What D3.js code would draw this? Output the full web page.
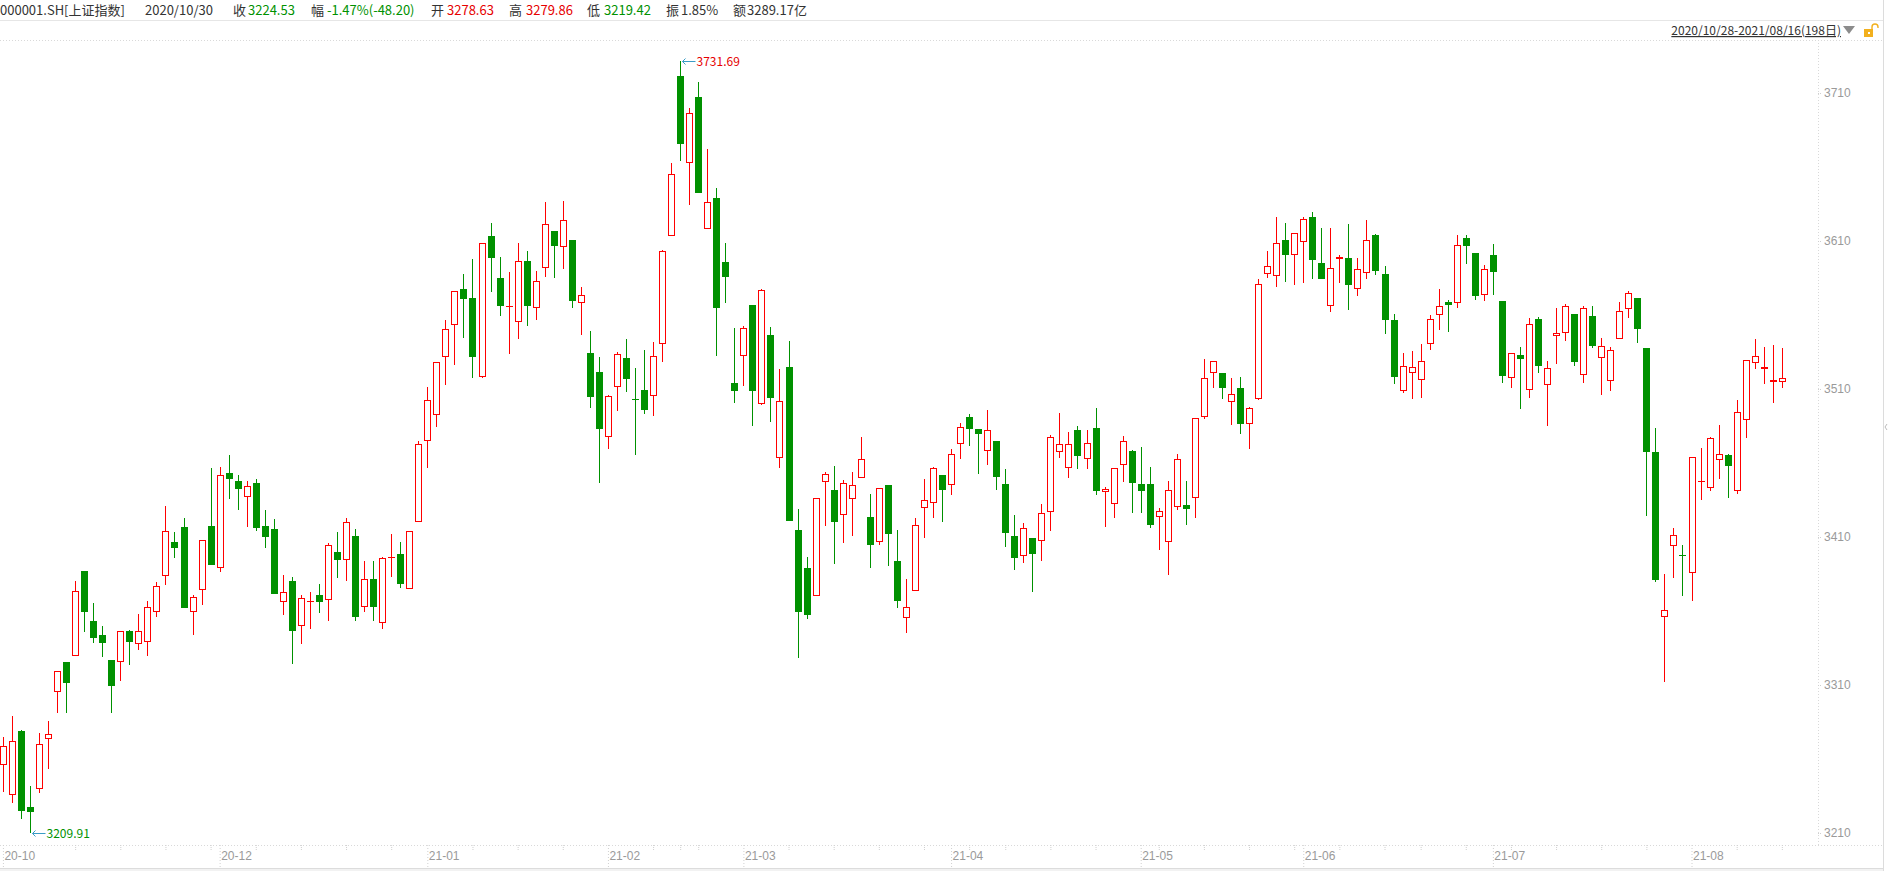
<!DOCTYPE html>
<html>
<head>
<meta charset="utf-8">
<title>000001.SH 上证指数 日K</title>
<script src="https://d3js.org/d3.v7.min.js"></script>
<style>
    body { margin:0; background:#fff; }
    svg { display:block; font-family:"Microsoft YaHei","Noto Sans CJK SC",sans-serif; }
    .hdr { font-size:13px; }
    .axis text { font-size:12px; fill:#9a9a9a; }
</style>
</head>
<body>
<svg id="klineSvg" width="1888" height="871"></svg>
<script>
// trading calendar: 2020/10/28 - 2021/08/16, weekdays minus exchange holidays
const startDay = "2020-10-28", endDay = "2021-08-16";
const holidays = ["2021-01-01","2021-02-11","2021-02-12","2021-02-15","2021-02-16","2021-02-17",
                  "2021-04-05","2021-05-03","2021-05-04","2021-05-05","2021-06-14"];

// OHLC, one value per trading day
const openV = [
 3255.7,3235.5,3278.63,3227.6,3239.5,3273.3,3305.0,3325.5,3329.4,3387.0,
 3353.2,3343.8,3326.9,3325.3,3346.3,3337.5,3338.8,3359.6,3383.9,3406.6,
 3416.8,3359.6,3374.0,3417.4,3388.8,3453.1,3447.8,3436.8,3446.3,3417.2,
 3415.2,3365.8,3380.0,3349.6,3366.5,3370.6,3367.2,3399.9,3394.2,3410.7,
 3362.5,3381.6,3351.7,3396.3,3398.5,3374.6,3419.9,3474.6,3492.2,3531.4,
 3553.0,3577.4,3571.5,3518.3,3613.4,3585.0,3565.9,3555.0,3596.5,3564.5,
 3591.5,3616.8,3605.7,3610.7,3567.9,3534.3,3521.5,3477.3,3511.1,3530.9,
 3503.0,3509.3,3505.0,3540.2,3613.1,3721.7,3662.4,3707.3,3618.0,3639.0,
 3595.9,3514.2,3532.0,3566.7,3500.2,3546.5,3463.2,3524.9,3414.8,3389.3,
 3370.1,3446.9,3441.9,3424.8,3435.6,3449.8,3423.5,3406.4,3445.3,3393.8,
 3355.2,3373.3,3429.4,3432.7,3451.7,3444.9,3472.6,3490.9,3482.7,3467.9,
 3474.6,3445.6,3410.7,3396.9,3409.3,3407.1,3427.1,3467.2,3456.4,3482.1,
 3462.5,3483.4,3440.2,3432.1,3458.4,3468.1,3445.7,3445.7,3423.3,3406.4,
 3430.0,3431.6,3436.1,3490.8,3520.6,3520.6,3501.0,3510.5,3486.1,3503.0,
 3587.5,3586.1,3610.4,3600.3,3609.1,3626.0,3594.9,3565.9,3597.6,3598.3,
 3577.3,3588.2,3613.9,3587.7,3556.6,3508.4,3520.6,3515.9,3540.2,3559.8,
 3568.8,3567.9,3612.0,3601.9,3573.3,3600.3,3569.5,3517.2,3533.0,3509.1,
 3557.3,3512.5,3545.6,3547.6,3560.7,3519.2,3559.1,3530.7,3515.2,3543.6,
 3563.8,3571.5,3537.7,3467.4,3355.7,3403.7,3397.8,3385.5,3447.2,3442.9,
 3461.8,3465.2,3441.3,3488.8,3527.3,3523.3,3514.7,3514.5];
const highV = [
 3275.1,3289.0,3279.86,3241.7,3277.3,3285.7,3319.2,3325.5,3380.3,3387.0,
 3365.2,3349.9,3326.9,3346.3,3347.2,3358.0,3366.8,3379.6,3430.9,3413.4,
 3422.6,3370.6,3408.0,3456.6,3457.5,3465.4,3451.9,3447.8,3449.0,3428.2,
 3422.2,3384.3,3383.0,3370.6,3372.8,3378.2,3405.7,3413.4,3422.8,3415.2,
 3393.8,3393.8,3396.5,3412.0,3406.6,3413.8,3474.9,3511.3,3528.0,3556.6,
 3576.0,3587.7,3597.8,3608.4,3622.2,3599.2,3588.8,3608.6,3603.2,3589.7,
 3636.4,3616.8,3637.0,3610.7,3578.9,3549.4,3531.6,3506.0,3535.0,3543.8,
 3524.4,3536.6,3541.7,3603.9,3662.7,3731.69,3700.0,3717.3,3672.1,3645.8,
 3608.8,3551.0,3552.3,3566.7,3577.5,3552.0,3523.6,3542.5,3429.0,3396.7,
 3436.4,3454.2,3457.7,3448.5,3454.0,3477.9,3439.3,3443.2,3445.3,3414.8,
 3381.7,3422.8,3449.2,3457.1,3451.7,3469.2,3487.0,3493.1,3482.7,3495.8,
 3474.6,3456.0,3424.9,3419.2,3409.3,3432.3,3478.7,3493.8,3481.0,3485.0,
 3482.3,3497.2,3443.6,3456.4,3478.2,3468.8,3470.8,3457.3,3429.4,3447.8,
 3466.1,3447.8,3490.2,3530.3,3528.7,3520.6,3517.4,3518.1,3497.6,3584.3,
 3603.2,3626.0,3621.9,3615.2,3626.2,3629.6,3618.8,3618.8,3600.3,3621.5,
 3598.5,3624.2,3614.6,3593.1,3560.7,3534.1,3535.7,3540.4,3559.8,3577.6,
 3570.1,3614.0,3614.0,3601.9,3593.6,3608.0,3569.5,3534.1,3538.4,3558.0,
 3558.7,3528.7,3564.7,3567.4,3560.7,3565.9,3566.1,3544.2,3538.2,3568.8,
 3576.2,3571.5,3537.7,3483.7,3385.0,3416.1,3404.6,3463.8,3470.1,3477.6,
 3485.7,3465.9,3502.6,3529.4,3543.8,3538.4,3539.7,3537.7];
const lowV = [
 3237.9,3230.5,3219.42,3209.91,3237.2,3253.5,3291.3,3291.3,3329.4,3346.0,
 3338.6,3329.1,3291.3,3312.9,3323.7,3333.6,3329.8,3356.2,3377.6,3396.0,
 3362.3,3344.0,3364.3,3391.3,3386.6,3435.9,3428.4,3417.0,3414.3,3402.8,
 3371.7,3357.5,3324.4,3337.9,3348.0,3358.9,3353.5,3382.5,3380.5,3353.5,
 3359.5,3353.5,3348.0,3383.2,3375.8,3374.6,3419.9,3456.8,3484.5,3512.9,
 3526.3,3544.7,3517.2,3517.6,3575.8,3559.5,3533.9,3544.0,3552.8,3556.8,
 3585.9,3585.2,3591.3,3564.9,3546.7,3496.9,3446.7,3469.7,3495.3,3508.2,
 3465.6,3492.9,3492.0,3528.5,3613.1,3664.2,3634.5,3642.7,3618.0,3532.0,
 3568.3,3500.8,3512.3,3485.3,3498.9,3487.4,3456.9,3421.1,3328.1,3354.4,
 3370.1,3417.5,3392.0,3406.1,3410.4,3449.8,3389.3,3404.3,3390.1,3361.7,
 3345.2,3373.3,3409.5,3423.0,3420.4,3438.6,3462.9,3471.7,3452.8,3458.9,
 3441.8,3403.5,3387.7,3392.7,3373.1,3394.0,3414.3,3463.6,3450.1,3456.2,
 3456.2,3438.6,3417.0,3423.1,3447.4,3426.4,3426.4,3416.3,3401.4,3384.5,
 3428.5,3418.3,3422.6,3489.7,3510.9,3503.5,3485.9,3479.8,3469.7,3502.3,
 3585.2,3579.1,3582.5,3580.5,3581.8,3584.5,3584.5,3562.3,3581.8,3563.6,
 3573.1,3584.5,3587.1,3547.4,3513.6,3507.5,3503.5,3504.1,3536.6,3550.1,
 3548.7,3565.0,3594.7,3570.4,3569.7,3573.7,3514.3,3510.9,3496.7,3504.1,
 3521.0,3485.2,3527.1,3542.6,3525.8,3514.3,3537.9,3506.2,3508.9,3543.6,
 3558.2,3541.3,3424.4,3379.8,3312.3,3382.5,3370.4,3367.0,3435.2,3440.9,
 3449.4,3436.6,3438.8,3477.1,3523.7,3513.6,3500.8,3510.9];
const closeV = [
 3268.8,3271.9,3224.53,3224.4,3269.9,3276.7,3319.2,3311.6,3373.3,3359.6,
 3342.0,3338.6,3309.5,3346.3,3339.3,3346.3,3362.7,3376.7,3414.1,3402.8,
 3362.3,3369.5,3408.0,3391.3,3451.9,3449.4,3442.1,3444.2,3416.3,3410.2,
 3371.7,3372.6,3346.7,3368.5,3366.6,3366.3,3404.4,3394.7,3419.9,3356.2,
 3381.4,3363.0,3395.6,3396.4,3378.5,3413.8,3472.6,3502.3,3528.0,3550.3,
 3576.0,3570.5,3531.8,3608.4,3598.7,3566.3,3566.0,3596.2,3566.3,3582.7,
 3621.3,3606.8,3623.9,3569.7,3573.3,3504.8,3483.2,3505.3,3533.4,3517.0,
 3502.6,3496.0,3532.1,3603.0,3655.0,3675.8,3696.3,3642.7,3636.1,3564.4,
 3585.4,3508.9,3551.0,3508.9,3576.7,3503.7,3501.6,3421.1,3359.1,3357.5,
 3436.4,3452.4,3419.8,3446.4,3445.0,3462.7,3404.3,3443.2,3411.7,3367.0,
 3362.5,3418.0,3434.8,3456.4,3442.0,3465.9,3484.1,3483.2,3479.8,3482.1,
 3450.8,3412.9,3396.0,3415.9,3398.7,3426.0,3477.3,3472.6,3472.6,3465.0,
 3473.3,3441.3,3442.2,3456.4,3474.6,3446.7,3441.3,3418.3,3427.3,3441.5,
 3462.5,3429.1,3490.2,3517.2,3528.7,3510.9,3506.4,3486.6,3496.9,3580.7,
 3592.9,3608.4,3600.8,3615.2,3624.6,3597.4,3584.5,3591.5,3599.0,3580.5,
 3590.9,3610.4,3590.0,3556.8,3518.3,3525.3,3524.6,3528.7,3557.1,3565.9,
 3567.0,3607.1,3606.8,3573.1,3590.9,3589.3,3519.0,3534.1,3530.5,3553.7,
 3525.8,3524.0,3547.6,3565.9,3528.5,3564.5,3539.3,3538.8,3536.1,3562.5,
 3574.6,3550.8,3467.7,3381.2,3360.5,3411.1,3397.4,3463.8,3447.6,3476.7,
 3465.9,3458.2,3494.2,3529.4,3532.1,3524.6,3516.1,3517.4];

const yTicks = [3210, 3310, 3410, 3510, 3610, 3710];

// quote strip at the top
const headerText = ["000001.SH[上证指数]","2020/10/30","收","3224.53","幅","-1.47%(-48.20)","开","3278.63",
                    "高","3279.86","低","3219.42","振","1.85%","额","3289.17亿"];
const headerTone = ["k","k","k","dn","k","dn","k","up","k","up","k","dn","k","k","k","k"];
const headerX    = [0,145,233,248,311,327,431,447,509,526,587,604,666,681,733,747];

const UP = "#ff0000", DOWN = "#009100";
const toneColor = { k:"#333", up:"#e60000", dn:"#009100" };

// ---- build trading day list ----
const fmtKey = d3.utcFormat("%Y-%m-%d");
const dates = d3.utcDay.range(new Date(startDay+"T00:00Z"), d3.utcDay.offset(new Date(endDay+"T00:00Z"), 1))
    .filter(d => d.getUTCDay() !== 0 && d.getUTCDay() !== 6 && !holidays.includes(fmtKey(d)));

const candles = dates.map((d, i) => ({ key: fmtKey(d), date: d, o: openV[i], h: highV[i], l: lowV[i], c: closeV[i] }));

const svg = d3.select("#klineSvg");
const W = 1888, H = 871;
const plotRight = 1818, plotTop = 40, plotBottom = 845;

// scales
const x = d3.scaleBand().domain(candles.map(d => d.key)).range([-1.1, 1786.84]).padding(0);
const y = d3.scaleLinear().domain([3210, 3710]).range([833, 93]);
const col = d => Math.floor(x(d.key) + x.bandwidth() / 2);

// ---- frame lines ----
svg.append("line").attr("x1",0).attr("x2",1883).attr("y1",20.5).attr("y2",20.5).attr("stroke","#e6e6e6");
svg.append("line").attr("x1",0).attr("x2",1883).attr("y1",plotTop+0.5).attr("y2",plotTop+0.5)
    .attr("stroke","#d9d9d9").attr("stroke-dasharray","1,2");
svg.append("line").attr("x1",1883.5).attr("x2",1883.5).attr("y1",0).attr("y2",H).attr("stroke","#dcdcdc");
svg.append("line").attr("x1",0).attr("x2",1883).attr("y1",868.5).attr("y2",868.5).attr("stroke","#dcdcdc");
svg.append("rect").attr("x",0).attr("y",869).attr("width",1883).attr("height",2).attr("fill","#f2f2f2");
svg.append("line").attr("x1",plotRight+0.5).attr("x2",plotRight+0.5).attr("y1",plotTop).attr("y2",plotBottom)
    .attr("stroke","#d9d9d9").attr("stroke-dasharray","1,2");
svg.append("line").attr("x1",0).attr("x2",1883).attr("y1",plotBottom+0.5).attr("y2",plotBottom+0.5)
    .attr("stroke","#d9d9d9").attr("stroke-dasharray","1,2");
// small handle at the right edge
svg.append("path").attr("d","M1887,424 L1885,427 L1887,430").attr("fill","none").attr("stroke","#bbb");

// ---- header ----
const hdr = svg.append("g").attr("class","hdr");
hdr.selectAll("text").data(headerText).join("text")
    .attr("x", (d, i) => headerX[i]).attr("y", 15)
    .attr("fill", (d, i) => toneColor[headerTone[i]])
    .text(d => d);

// range text, triangle, lock
const fmtSlash = d3.utcFormat("%Y/%m/%d");
svg.append("text").attr("x", 1841).attr("y", 35).attr("text-anchor","end")
    .attr("font-size","12px").attr("fill","#333").attr("text-decoration","underline")
    .text(fmtSlash(dates[0]) + "-" + fmtSlash(dates[dates.length-1]) + "(" + dates.length + "日)");
svg.append("path").attr("d","M1843,26 L1855,26 L1849,34 Z").attr("fill","#8c8c8c");
svg.append("rect").attr("x",1864).attr("y",29).attr("width",9).attr("height",8).attr("fill","#f2b01e");
svg.append("rect").attr("x",1868).attr("y",32).attr("width",2).attr("height",2).attr("fill","#fff");
svg.append("path").attr("d","M1872,29 V27 A3,3 0 0 1 1878,27 V28").attr("fill","none")
    .attr("stroke","#f2b01e").attr("stroke-width",1.4);

// ---- y axis (right) ----
const yAxisG = svg.append("g").attr("class","axis").attr("transform",`translate(${plotRight},0)`)
    .call(d3.axisRight(y).tickValues(yTicks).tickSize(4).tickPadding(2).tickFormat(d3.format("d")));
yAxisG.select(".domain").remove();
yAxisG.selectAll(".tick line").attr("stroke","#cfcfcf").attr("stroke-dasharray","1,1");

// ---- x axis ----
const monthStarts = candles.filter((d, i) => i === 0 || d.date.getUTCMonth() !== candles[i-1].date.getUTCMonth());
const weekKey = d => fmtKey(d3.utcMonday.floor(d.date));
const weekStarts = candles.filter((d, i) => i > 0 && weekKey(d) !== weekKey(candles[i-1]) && !monthStarts.includes(d));
// drop month labels that would collide with the previous one
const shownMonths = [];
monthStarts.forEach(d => {
    const last = shownMonths[shownMonths.length-1];
    if (!last || x(d.key) - x(last.key) > 50) shownMonths.push(d);
});
const fmtMonth = d3.utcFormat("%y-%m");
const keyToDate = new Map(candles.map(d => [d.key, d.date]));

const minorG = svg.append("g").attr("class","axis").attr("transform",`translate(0,${plotBottom})`)
    .call(d3.axisBottom(x).tickValues(weekStarts.map(d => d.key)).tickSize(5).tickFormat(""));
minorG.select(".domain").remove();
minorG.selectAll(".tick line").attr("stroke","#d0d0d0").attr("stroke-dasharray","1,1");

const xAxisG = svg.append("g").attr("class","axis").attr("transform",`translate(0,${plotBottom})`)
    .call(d3.axisBottom(x).tickValues(shownMonths.map(d => d.key)).tickSize(23)
        .tickFormat(k => fmtMonth(keyToDate.get(k))));
xAxisG.select(".domain").remove();
xAxisG.selectAll(".tick line").attr("stroke","#d0d0d0").attr("stroke-dasharray","1,2");
xAxisG.selectAll(".tick text").attr("text-anchor","start").attr("x",1).attr("y",15).attr("dy",0);

// ---- candles ----
const cg = svg.append("g").attr("shape-rendering","crispEdges");
candles.forEach(d => {
    const up = d.c >= d.o;
    const color = up ? UP : DOWN;
    const px = col(d);
    const yt = Math.round(y(Math.max(d.o, d.c)));
    const yb = Math.round(y(Math.min(d.o, d.c)));
    const yh = Math.round(y(d.h));
    const yl = Math.round(y(d.l));
    if (!up || yb - yt <= 1) {
        cg.append("rect").attr("x",px).attr("y",yh).attr("width",1).attr("height",Math.max(1, yl-yh)).attr("fill",color);
        cg.append("rect").attr("x",px-3).attr("y",yt).attr("width",7).attr("height",Math.max(1, yb-yt)).attr("fill",color);
    } else {
        if (yt > yh) cg.append("rect").attr("x",px).attr("y",yh).attr("width",1).attr("height",yt-yh).attr("fill",color);
        if (yl > yb) cg.append("rect").attr("x",px).attr("y",yb).attr("width",1).attr("height",yl-yb).attr("fill",color);
        cg.append("rect").attr("x",px-2.5).attr("y",yt+0.5).attr("width",6).attr("height",yb-yt-1)
            .attr("fill","#fff").attr("stroke",color).attr("stroke-width",1);
    }
});

// ---- max / min markers ----
const hiIdx = d3.maxIndex(candles, d => d.h);
const loIdx = d3.minIndex(candles, d => d.l);
function marker(d, v, color) {
    const px = col(d) + 0.5, py = Math.round(y(v)) + 0.5;
    const m = svg.append("g");
    m.append("path").attr("d",`M${px+2},${py} H${px+15} M${px+5},${py-3} L${px+2},${py} L${px+5},${py+3}`)
        .attr("fill","none").attr("stroke","#3a9cc6").attr("stroke-width",1);
    m.append("text").attr("x",px+16).attr("y",py).attr("dy","0.35em")
        .attr("font-size","12px").attr("fill",color).text(d3.format(".2f")(v));
}
marker(candles[hiIdx], candles[hiIdx].h, "#e60000");
marker(candles[loIdx], candles[loIdx].l, DOWN);
</script>
</body>
</html>
